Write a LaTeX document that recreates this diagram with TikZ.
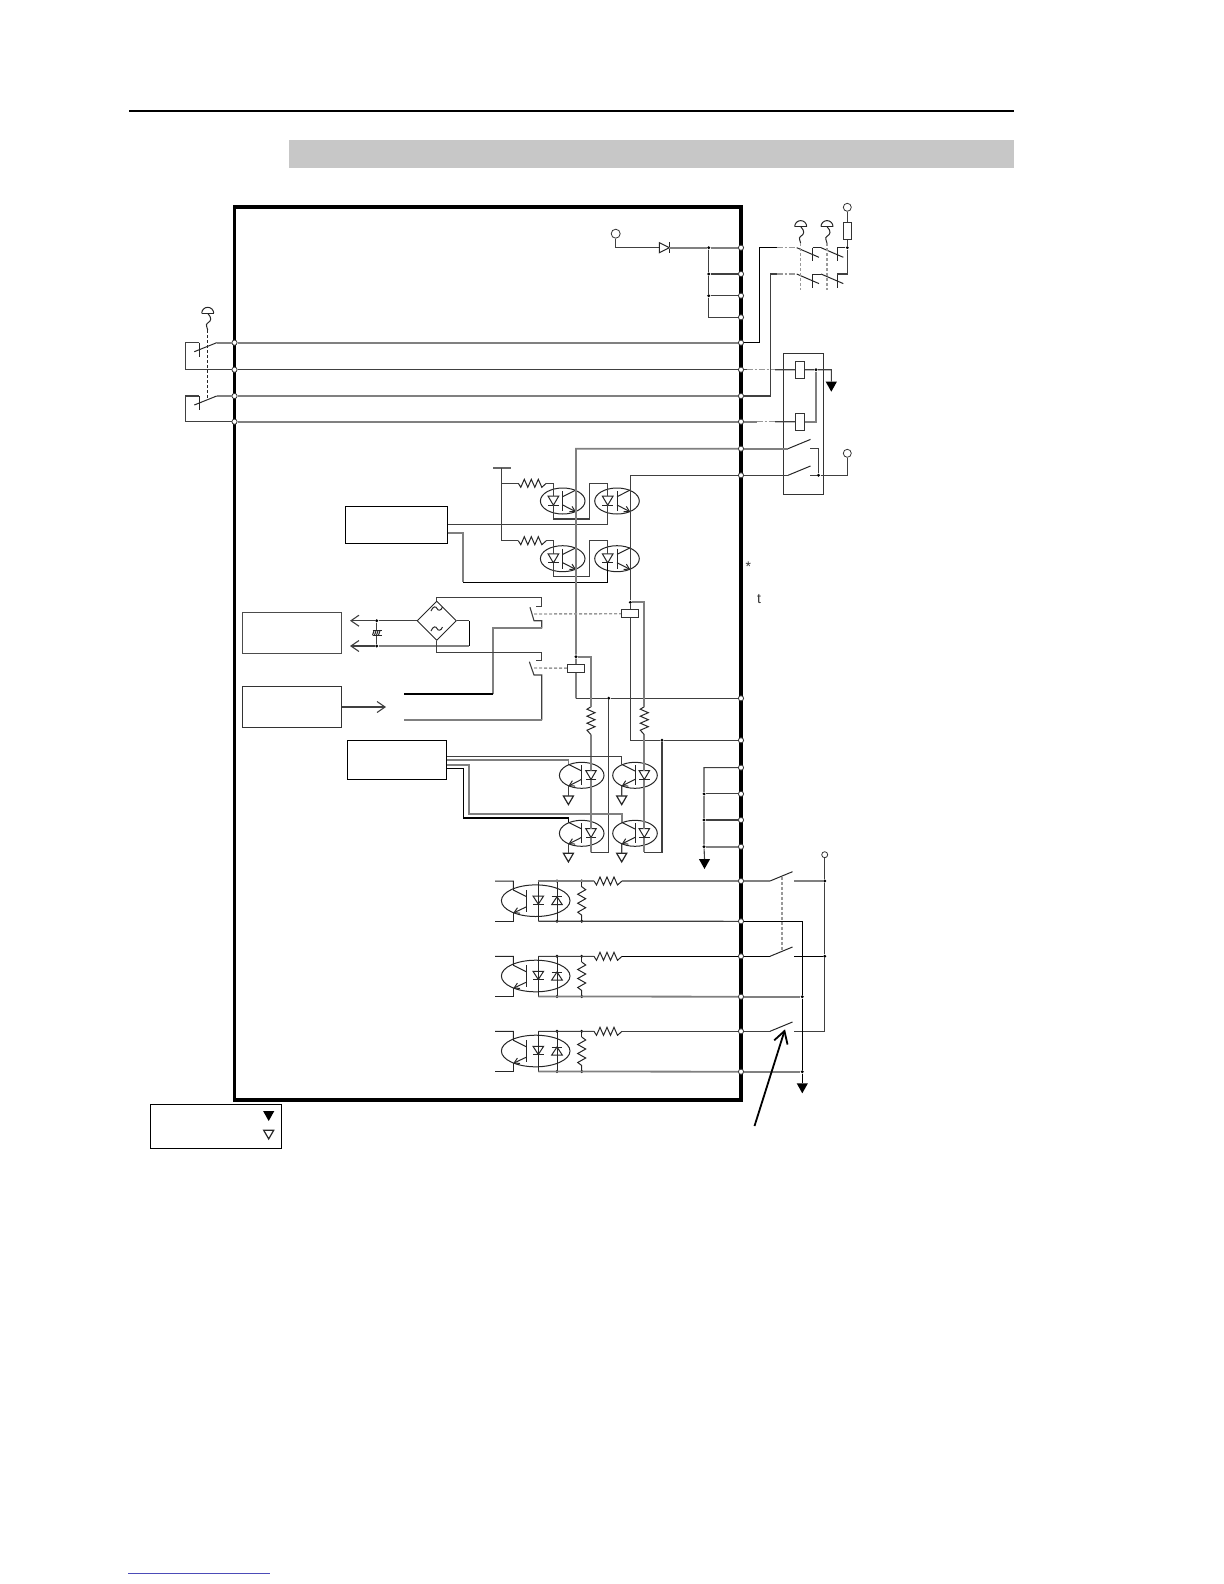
\documentclass[tikz,border=0pt]{standalone}
\usepackage{fontspec}
\setmainfont{Liberation Sans}
\usetikzlibrary{arrows.meta,shapes.geometric}
\begin{document}
\begin{tikzpicture}[x=.5pt,y=-.5pt,
  wire/.style={draw=black!75,line width=.55pt},
  wireg/.style={draw=black!50,line width=.9pt},
  wired/.style={draw=black!40,line width=.7pt,dash pattern=on 3pt off 1pt on 1pt off 1pt},
  dotl/.style={draw=black!40,line width=.7pt,dash pattern=on 1.5pt off 1pt},
  part/.style={draw=black!85,line width=.5pt},
  tip open/.style={-{Straight Barb[length=4pt,width=5.5pt]}},
  term node/.style={circle,draw=black!80,fill=white,line width=.4pt,inner sep=0pt,minimum size=2.6pt},
  dot node/.style={circle,fill=black,inner sep=0pt,minimum size=1.6pt},
  open node/.style={circle,draw=black!80,fill=white,line width=.4pt,inner sep=0pt,minimum size=4.5pt},
  box node/.style={draw=black,fill=white,line width=.5pt,inner sep=0pt},
  coil node/.style={draw=black!80,fill=white,line width=.45pt,inner sep=0pt,minimum width=4.3pt,minimum height=8.5pt},
  coilh node/.style={draw=black!80,fill=white,line width=.45pt,inner sep=0pt,minimum width=8.7pt,minimum height=4.2pt},
  txt node/.style={font=\fontsize{7}{8}\selectfont,inner sep=0pt,text=black!80},
  resis/.pic={
    \coordinate (-a) at (0,0);
    \coordinate (-b) at (28,0);
    \draw[part] (0,0) -- (2.5,4) -- (6,-4) -- (9.5,4) -- (13,-4) -- (16.5,4) -- (20,-4) -- (23.5,4) -- (28,0);
  },
  opto/.pic={
    \coordinate (-an) at (-9.3,-4.8);
    \coordinate (-ca) at (-9.3,4.2);
    \coordinate (-c) at (13.3,-11);
    \coordinate (-e) at (13.3,10.8);
    \draw[part] (0,0) ellipse [x radius=22.3,y radius=13];
    \draw[part] (-14.6,-4.8) -- (-4,-4.8) -- (-9.3,4.2) -- cycle;
    \draw[part] (-14.6,4.2) -- (-4,4.2);
    \draw[part] (0,-10) -- (0,10);
    \draw[part] (0,-4.3) -- (13.3,-11);
    \draw[part,-{Straight Barb[length=2.5pt,width=3pt]}] (0,4) -- (13.3,10.8);
  },
  optoin/.pic={
    \coordinate (-top) at (46,-19.7);
    \coordinate (-bot) at (46,20.5);
    \draw[part] (0,0) ellipse [x radius=34.3,y radius=15.8];
    \draw[part] (-40.7,-19.7) -- (-22.4,-19.7) -- (-22.4,-10.7) -- (-9,-4);
    \draw[part,-{Straight Barb[length=2.5pt,width=3pt]}] (-9,6) -- (-22.4,12.3);
    \draw[part] (-22.4,12.3) -- (-22.4,20.5) -- (-40.7,20.5);
    \draw[part] (-9,-10.7) -- (-9,11);
    \draw[part] (2.6,-19.7) -- (2.6,20.5);
    \draw[part] (-2.7,-4.7) -- (7.9,-4.7) -- (2.6,3.5) -- cycle;
    \draw[part] (-2.7,3.5) -- (7.9,3.5);
    \draw[part] (21.3,-19.7) -- (21.3,20.5);
    \draw[part] (16,4) -- (26.6,4) -- (21.3,-4) -- cycle;
    \draw[part] (16,-4) -- (26.6,-4);
    \draw[part] (46,-19.7) -- (46,-14);
    \draw[part] (46,-14) -- (50,-11) -- (42,-6.5) -- (50,-2) -- (42,2.5) -- (50,7) -- (42,11.5) -- (46,14.5) -- (46,20.5);
    \node[dot node] at (21.3,-19.7) {};
    \node[dot node] at (21.3,20.5) {};
    \node[dot node] at (46,-19.7) {};
    \node[dot node] at (46,20.5) {};
  },
  gndf/.pic={
    \coordinate (-in) at (0,0);
    \fill[black] (-5.6,0) -- (5.6,0) -- (0,10) -- cycle;
  },
  gndo/.pic={
    \coordinate (-in) at (0,0);
    \draw[draw=black!85,line width=.6pt,fill=white] (-5,0) -- (5,0) -- (0,8.6) -- cycle;
  },
  estop/.pic={
    \coordinate (-out) at (0,0);
    \draw[part] (-6,-16.7) -- (6,-16.7);
    \draw[part] (-6,-16.7) arc [start angle=180,end angle=360,radius=6];
    \draw[part] (0,-16.7) .. controls (4.5,-12) and (3.5,-9) .. (0,-7) .. controls (-3,-5) and (0,-3) .. (0,0);
  },
  nclose/.pic={
    \coordinate (-a) at (0,0);
    \coordinate (-b) at (16,0);
    \draw[part] (0,0) -- (22.3,9.6);
    \draw[part] (16,0) -- (16,13.5);
  },
  nopen/.pic={
    \coordinate (-a) at (0,0);
    \coordinate (-b) at (22,0);
    \draw[part] (0,0) -- (22.5,-9.3);
  },
  swl/.pic={
    \coordinate (-a) at (0,0);
    \coordinate (-b) at (-17.7,0);
    \draw[part] (0,0) -- (-22.4,9);
    \draw[part] (-17.7,0) -- (-17.7,14);
  }]
  \useasboundingbox (0,0) rectangle (1224,1584);

  % page furniture
  \coordinate (hl1) at (129,111);
  \coordinate (hl2) at (1014,111);
  \coordinate (fl1) at (128,1573.5);
  \coordinate (fl2) at (270,1573.5);
  \draw[line width=1pt] (hl1) -- (hl2);
  \draw[blue!60!black!70,line width=.5pt] (fl1) -- (fl2);
  \fill[black!22] (289,140) rectangle (1014,168);

  % frame
  \draw[line width=1.6pt] (234.5,207) rectangle (741,1100);

  % terminals
  \foreach \n/\y in {1/247.7,2/274,3/295.7,4/317.3,5/342.7,6/369.7,7/396,8/421.7,9/448.7,10/475.3,
    11/698.3,12/740.3,13/767.6,14/793.9,15/820,16/846.7,17/881,18/921.3,19/956.3,20/996.7,21/1031.3,22/1071.7}
    \node[term node] (tr\n) at (741,\y) {};
  \foreach \n/\y in {1/342.7,2/369.7,3/396,4/421.7}
    \node[term node] (tl\n) at (234.5,\y) {};

  % long lines
  \draw[wireg] (tl1) -- (tr5);
  \draw[wire] (tl2) -- (tr6);
  \draw[wireg] (tl3) -- (tr7);
  \draw[wireg] (tl4) -- (tr8);

  % left e-stop
  \pic (sl1) at (216.7,342.7) {swl};
  \pic (sl2) at (216.7,396) {swl};
  \pic (es1) at (207.7,330) {estop};
  \draw[wireg] (tl1) -- (sl1-a);
  \draw[wire,line width=.6pt] (sl1-b) -- (185.3,342.7) |- (tl2);
  \draw[wireg] (tl3) -- (sl2-a);
  \draw[wire,line width=.6pt] (sl2-b) -- (185.3,396) |- (tl4);
  \draw[part,dash pattern=on 1.5pt off 1pt] (es1-out) -- (207.7,400);

  % top diode and links
  \node[open node] (ov1) at (615.7,233.7) {};
  \node[dot node] (j1) at (708.7,247.7) {};
  \node[dot node] (j2) at (708.7,274) {};
  \node[dot node] (j3) at (708.7,295.7) {};
  \coordinate (da) at (659.3,247.7);
  \coordinate (dk) at (669.3,247.7);
  \draw[part] (659.3,242.7) -- (669.3,247.7) -- (659.3,252.7) -- cycle;
  \draw[part] (669.3,242.2) -- (669.3,253.2);
  \draw[wire] (ov1) |- (da);
  \draw[wireg] (dk) -- (j1) -- (tr1);
  \draw[wire] (j1) -- (j2) -- (j3) |- (tr4);
  \draw[wire] (j2) -- (tr2);
  \draw[wire] (j3) -- (tr3);

  % door switches
  \pic (s1) at (796.7,247.7) {nclose};
  \pic (s2) at (821,247.7) {nclose};
  \pic (s3) at (796.7,274) {nclose};
  \pic (s4) at (821,274) {nclose};
  \pic (es2) at (800.7,243.3) {estop};
  \pic (es3) at (827,243.3) {estop};
  \coordinate (ca1) at (776.7,247.7);
  \coordinate (ca2) at (776.7,274);
  \node[dot node] (j4) at (847.3,247.7) {};
  \node[coil node,minimum width=4pt,minimum height=8.7pt] (rc) at (847.3,230.7) {};
  \node[open node,minimum size=4pt] (ov2) at (847.3,207.3) {};
  \draw[wire,draw=black] (tr5) -| (759.7,247.7) -- (ca1);
  \draw[wired] (ca1) -- (s1-a);
  \draw[wire] (tr7) -| (770.7,274) -- (ca2);
  \draw[wired] (ca2) -- (s3-a);
  \draw[part] (s1-b) -- (s2-a);
  \draw[part] (s3-b) -- (s4-a);
  \draw[part] (s2-b) -- (j4);
  \draw[wire] (s4-b) -| (j4);
  \draw[wire] (j4) -- (rc);
  \draw[wire] (rc) -- (ov2);
  \draw[dotl] (es2-out) -- (800.7,290);
  \draw[dotl] (es3-out) -- (827,290);

  % relay block
  \node[draw=black!80,line width=.5pt,inner sep=0pt,minimum width=19.8pt,minimum height=70.7pt] (rly) at (803.5,424) {};
  \node[coil node] (cl1) at (800,369.8) {};
  \node[coil node] (cl2) at (800,421.8) {};
  \node[dot node] (j5) at (816,369.7) {};
  \node[dot node] (j6) at (818.5,475.3) {};
  \node[open node,minimum size=4pt] (ov3) at (847.3,453.3) {};
  \pic (k1) at (788,448.7) {nopen};
  \pic (k2) at (788,475.3) {nopen};
  \pic (gf1) at (831.3,381.7) {gndf};
  \coordinate (cb1) at (746.7,369.7);
  \coordinate (cb2) at (775,369.7);
  \coordinate (cb3) at (756.7,421.7);
  \coordinate (cb4) at (775,421.7);
  \draw[wire] (tr6) -- (cb1);
  \draw[wired] (cb1) -- (cb2);
  \draw[wire] (cb2) -- (cl1);
  \draw[wireg] (tr8) -- (cb3);
  \draw[wired] (cb3) -- (cb4);
  \draw[wire] (cb4) -- (cl2);
  \draw[wire] (cl1) -- (j5) -| (gf1-in);
  \draw[wireg] (j5) |- (cl2);
  \draw[wireg] (tr9) -- (k1-a);
  \draw[wire] (tr10) -- (k2-a);
  \draw[wire] (k1-b) -| (j6);
  \draw[wire] (k2-b) -- (j6) -| (ov3);

  % output couplers
  \pic (o1) at (562.7,501) {opto};
  \pic (o2) at (617,501) {opto};
  \pic (o3) at (562.7,558.7) {opto};
  \pic (o4) at (617,558.7) {opto};
  \pic (res1) at (518.3,483.3) {resis};
  \pic (res2) at (518.3,540.7) {resis};
  \node[box node,line width=.7pt,minimum width=51.2pt,minimum height=18.5pt] (b1) at (396.5,524.8) {};
  \coordinate (vt) at (501.7,467.7);
  \coordinate (vt1) at (493.3,467.7);
  \coordinate (vt2) at (511,467.7);
  \coordinate (b1a) at (447.7,533.3);
  \draw[wireg,draw=black!60] (vt1) -- (vt2);
  \draw[wire] (vt) -- (501.7,540.7) -- (res2-a);
  \draw[wire] (501.7,483.3) -- (res1-a);
  \draw[wire] (res1-b) -| (o1-an);
  \draw[wire] (res2-b) -| (o3-an);
  \draw[wire] (o1-ca) |- (589.3,519) -- (589.3,483.3) -| (o2-an);
  \draw[wire] (o2-ca) |- (b1.east |- 400,524.3);
  \draw[wire] (o3-ca) |- (589.3,576.7) -- (589.3,540.7) -| (o4-an);
  \draw[wireg] (b1a) -| (463.3,582.3);
  \draw[wire,draw=black] (463.3,582.3) -| (o4-ca);

  % common lines through the couplers
  \node[dot node] (j8) at (576,656.7) {};
  \node[dot node] (j9) at (608.7,698.3) {};
  \node[dot node] (j10) at (630.3,602.3) {};
  \node[dot node] (j11) at (662,740.3) {};
  \draw[wireg] (tr9) -| (o1-c) -- (o3-e) -- (j8) -- (576,698.3);
  \draw[wire] (576,698.3) -- (j9) -- (tr11);
  \draw[wire] (tr10) -| (o2-c) -- (o4-e) -- (j10) -- (630.3,740.3) -- (j11) -- (tr12);

  % rectifier and contacts
  \node[draw=black!85,diamond,line width=.45pt,inner sep=0pt,minimum width=19.7pt,minimum height=19.7pt] (bri) at (436.7,620.7) {};
  \draw[part] (431,611) .. controls (433,606) and (436,606) .. (437,608.5) .. controls (438,611) and (441,611) .. (442.5,607);
  \draw[part] (431,631) .. controls (433,626) and (436,626) .. (437,628.5) .. controls (438,631) and (441,631) .. (442.5,627);
  \node[box node,draw=black!70,minimum width=49.7pt,minimum height=20.3pt] (b2) at (292,633) {};
  \node[box node,draw=black!80,minimum width=49.7pt,minimum height=20.3pt] (b3) at (292,707) {};
  \node[dot node] (jc1) at (376.7,620.7) {};
  \node[dot node] (jc2) at (376.7,646) {};
  \coordinate (ar1) at (350,620.7);
  \coordinate (ar2) at (350,646);
  \coordinate (ar3) at (386,707);
  \coordinate (wl1) at (404,694);
  \coordinate (wl2) at (404,720);
  \draw[wire,tip open] (bri.west) -- (jc1) -- (ar1);
  \draw[wire] (bri.east) -- (469.3,620.7);
  \draw[wire,draw=black] (469.3,620.7) -- (469.3,646);
  \draw[wireg] (469.3,646) -- (jc2);
  \draw[wire,tip open] (jc2) -- (ar2);
  \draw[wire,tip open] (b3) -- (ar3);
  \draw[wire] (jc1) -- (376.7,630.7);
  \draw[wire] (jc2) -- (376.7,635.3);
  \draw[part] (372.7,630.7) -- (381.7,630.7);
  \draw[part] (372.7,635.3) -- (381.7,635.3);
  \foreach \x in {374,376,378,380}
    \draw[part] (\x,630.7) -- (\x-1.5,635.3);
  \draw[wire] (bri.north) |- (541.7,597.7) -- (541.7,606.7) -- (536,606.7);
  \draw[wire] (530,607.3) -- (534,620.7) -- (541.7,620.7) -- (541.7,628.3);
  \draw[wireg] (541.7,628.3) -- (493.3,628.3) -- (493.3,694);
  \draw[wire,draw=black] (493.3,694) -- (wl1);
  \draw[wire] (bri.south) |- (541.7,652.3) -- (541.7,660.7) -- (536,660.7);
  \draw[wire] (529.3,661.7) -- (534,675) -- (541.7,675) -- (541.7,720);
  \draw[wireg] (541.7,720) -- (wl2);

  % coils on top of the lines
  \node[coilh node] (cl3) at (630,613.7) {};
  \node[coilh node] (cl4) at (576,668.2) {};
  \draw[dotl] (534,614) -- (cl3);
  \draw[dotl] (534,668) -- (cl4);

  % drive outputs
  \pic[xscale=-1] (q1) at (581.7,775.3) {opto};
  \pic[xscale=-1] (q2) at (635,775.3) {opto};
  \pic[xscale=-1] (q3) at (581.7,833.3) {opto};
  \pic[xscale=-1] (q4) at (635,833.3) {opto};
  \pic (g1) at (568.4,796) {gndo};
  \pic (g2) at (621.7,796) {gndo};
  \pic (g3) at (568.4,853.3) {gndo};
  \pic (g4) at (621.7,853.3) {gndo};
  \pic[rotate=-90] (res3) at (591,706.7) {resis};
  \pic[rotate=-90] (res4) at (644.3,706.7) {resis};
  \node[box node,line width=.7pt,minimum width=49.7pt,minimum height=19.5pt] (b4) at (397,759.8) {};
  \draw[wireg] (j8) -| (res3-a);
  \draw[wireg] (res3-b) -- (q1-an);
  \draw[wireg] (q1-ca) -- (q3-an);
  \draw[wireg] (q3-ca) -- (591,852.3);
  \draw[wire] (591,852.3) -- (608.7,852.3) -- (j9);
  \draw[wireg] (j10) -| (res4-a);
  \draw[wireg] (res4-b) -- (q2-an);
  \draw[wireg] (q2-ca) -- (q4-an);
  \draw[wireg] (q4-ca) -- (644.3,852.3);
  \draw[wire] (644.3,852.3) -- (662,852.3) -- (j11);
  \draw[wire] (b4.east |- 400,756.7) -| (q2-c);
  \draw[wireg] (b4.east |- 400,760) -| (q1-c);
  \draw[wireg] (b4.east |- 400,765) -| (468.7,814) -| (q4-c);
  \draw[wire,draw=black] (b4.east |- 400,768.7) -| (463.3,818) -| (q3-c);
  \draw[wire] (q1-e) -- (g1-in);
  \draw[wire] (q2-e) -- (g2-in);
  \draw[wire] (q3-e) -- (g3-in);
  \draw[wire] (q4-e) -- (g4-in);

  % bus at the terminals
  \node[dot node] (j14) at (704,793.9) {};
  \node[dot node] (j15) at (704,820) {};
  \node[dot node] (j16) at (704,846.7) {};
  \pic (gf2) at (704.5,859) {gndf};
  \draw[wire] (tr13) -- (704,767.6) -- (j14) -- (j15) -- (j16) -- (gf2-in);
  \draw[wire] (tr14) -- (j14);
  \draw[wire] (tr15) -- (j15);
  \draw[wireg] (tr16) -- (j16);

  % input couplers
  \foreach \n/\y in {1/900.7,2/976,3/1051}
    \pic (p\n) at (535.7,\y) {optoin};
  \pic (res5) at (594,881) {resis};
  \pic (res6) at (594,956.3) {resis};
  \pic (res7) at (594,1031.3) {resis};
  \draw[wireg] (538.3,881) -- (p1-top) -- (res5-a);
  \draw[wireg] (res5-b) -- (tr17);
  \draw[wire] (538.3,921.2) -- (p1-bot) -- (tr18);
  \draw[wire] (538.3,956.3) -- (p2-top) -- (res6-a);
  \draw[wire,draw=black] (res6-b) -- (tr19);
  \draw[wireg] (538.3,996.5) -- (p2-bot) -- (tr20);
  \draw[wire] (538.3,1031.3) -- (p3-top) -- (res7-a);
  \draw[wire] (res7-b) -- (tr21);
  \draw[wireg] (538.3,1071.5) -- (p3-bot) -- (tr22);

  % safety contacts
  \pic (k3) at (770,881) {nopen};
  \pic (k4) at (770,956.3) {nopen};
  \pic (k5) at (770,1031.3) {nopen};
  \node[open node,minimum size=3pt] (ov4) at (824.7,854.7) {};
  \node[dot node] (j12) at (824.7,881) {};
  \node[dot node] (j13) at (824.7,956.3) {};
  \node[dot node] (j17) at (802.3,996.7) {};
  \node[dot node] (j18) at (802.3,1071.7) {};
  \coordinate (kb1) at (794,881);
  \coordinate (kb2) at (794,956.3);
  \coordinate (kb3) at (794,1031.3);
  \pic (gf3) at (802.3,1083.3) {gndf};
  \draw[wireg] (tr17) -- (k3-a);
  \draw[wire,draw=black] (tr19) -- (k4-a);
  \draw[wire] (tr21) -- (k5-a);
  \draw[wireg] (kb1) -- (j12);
  \draw[wire,draw=black] (kb2) -- (j13);
  \draw[wire] (ov4) -- (j12) -- (j13) |- (kb3);
  \draw[wire,draw=black] (tr18) -| (j17);
  \draw[wire,draw=black] (j17) -- (j18) -- (gf3-in);
  \draw[wireg] (tr20) -- (j17);
  \draw[wireg] (tr22) -- (j18);
  \draw[dotl] (782,876.7) -- (782,951);

  % pointer and legend
  \coordinate (pa) at (754.5,1126);
  \coordinate (pb) at (785,1029.3);
  \draw[line width=.9pt,-{Straight Barb[length=6pt,width=7pt]}] (pa) -- (pb);
  \node[box node,minimum width=65.3pt,minimum height=21.9pt] (leg) at (216,1126.2) {};
  \pic (gf4) at (268.7,1111) {gndf};
  \pic (go1) at (268.7,1130.3) {gndo};

  % stray letters
  \node[txt node] (ast) at (748.3,567) {*};
  \node[txt node] (tee) at (759,599.3) {t};
\end{tikzpicture}
\end{document}
